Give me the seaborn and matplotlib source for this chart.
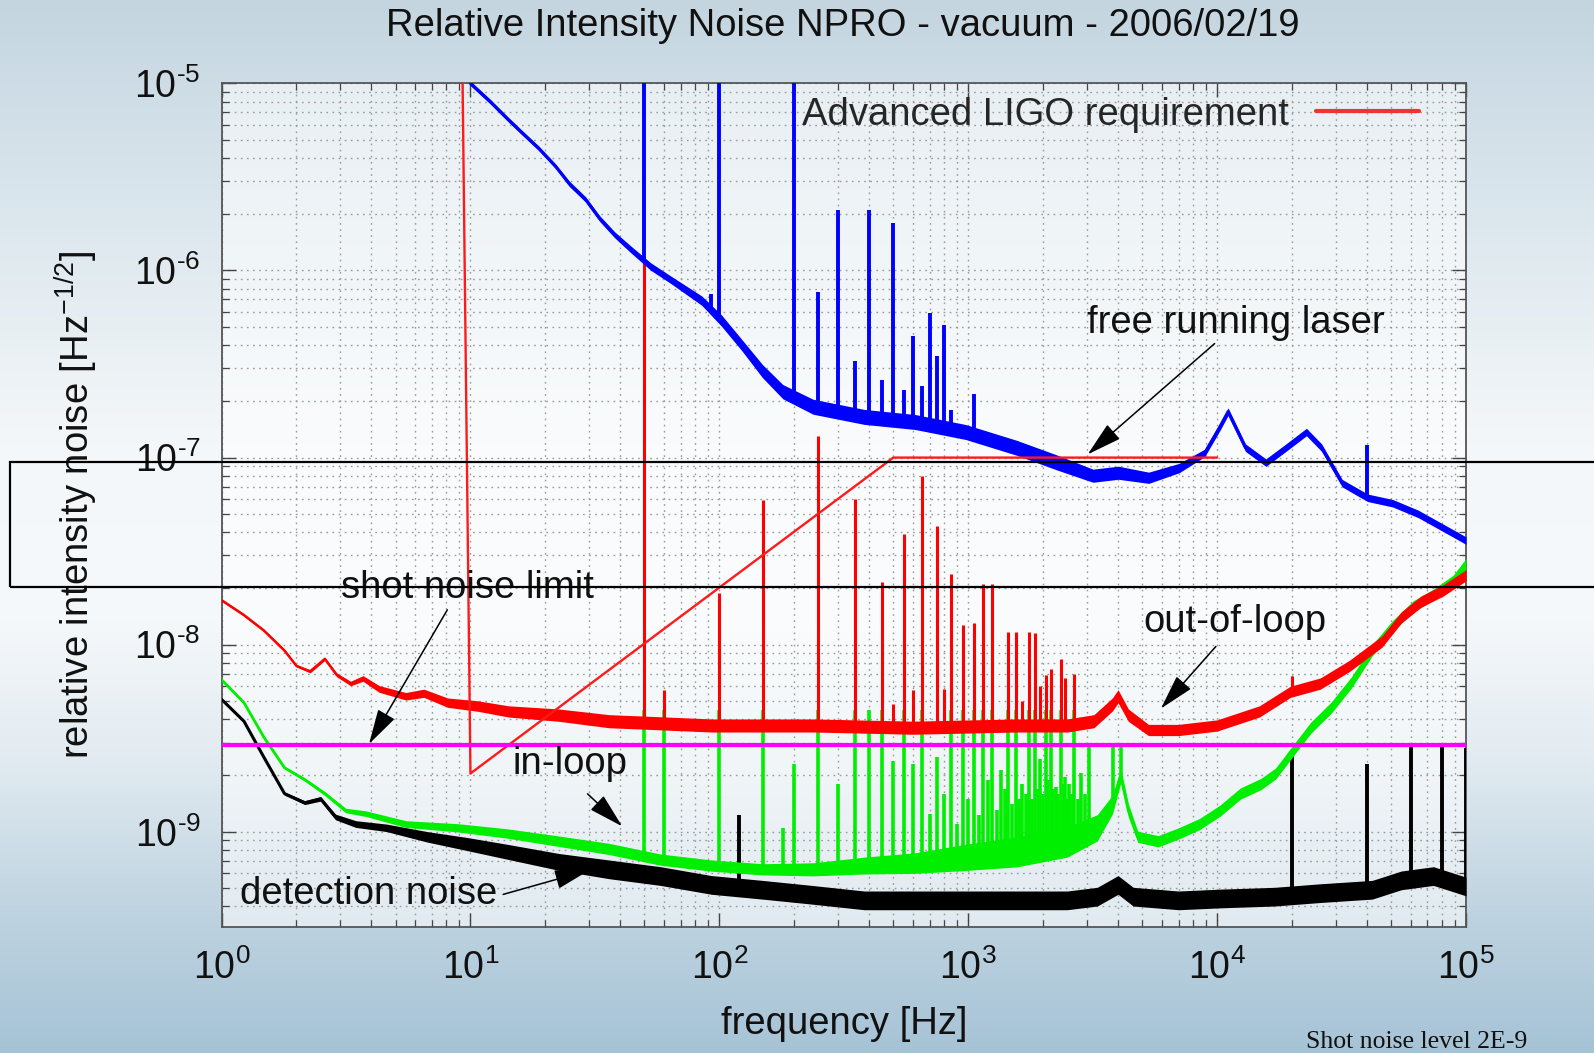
import numpy as np
import pandas as pd
import matplotlib
matplotlib.use("Agg")
import matplotlib.pyplot as plt
import seaborn as sns
from matplotlib.patches import Rectangle
from matplotlib.ticker import NullFormatter

# ---------------- data ----------------
title = "Relative Intensity Noise NPRO - vacuum - 2006/02/19"
x_label = "frequency [Hz]"
y_label = "relative intensity noise [Hz$^{-1/2}$]"
x_ticks = [1, 10, 100, 1000, 1e4, 1e5]
x_tick_labels = [r"$\mathdefault{10^{0}}$", r"$\mathdefault{10^{1}}$", r"$\mathdefault{10^{2}}$",
                 r"$\mathdefault{10^{3}}$", r"$\mathdefault{10^{4}}$", r"$\mathdefault{10^{5}}$"]
y_ticks = [1e-9, 1e-8, 1e-7, 1e-6, 1e-5]
y_tick_labels = [r"$\mathdefault{10^{\text{-}9}}$", r"$\mathdefault{10^{\text{-}8}}$",
                 r"$\mathdefault{10^{\text{-}7}}$", r"$\mathdefault{10^{\text{-}6}}$",
                 r"$\mathdefault{10^{\text{-}5}}$"]

# free running laser (blue)
blue_freq = [10, 12, 14.2, 16, 18.8, 22, 25, 29, 33, 38, 44, 53, 64, 85, 102, 123, 149, 180,
             238, 382, 611, 977, 1560, 2280, 3170, 4010, 5310, 7050, 8920, 10260, 11070, 13000,
             15700, 18900, 22850, 26300, 31800, 40200, 50800, 64300, 81300, 100000]
blue_val = [1.0e-5, 8.0e-6, 6.4e-6, 5.5e-6, 4.5e-6, 3.6e-6, 2.9e-6, 2.4e-6, 1.9e-6, 1.55e-6,
            1.3e-6, 1.05e-6, 8.9e-7, 6.9e-7, 5.4e-7, 4.0e-7, 2.9e-7, 2.25e-7, 1.87e-7, 1.65e-7,
            1.55e-7, 1.37e-7, 1.13e-7, 9.4e-8, 8.0e-8, 8.3e-8, 7.8e-8, 8.8e-8, 1.06e-7, 1.46e-7,
            1.76e-7, 1.13e-7, 9.4e-8, 1.13e-7, 1.37e-7, 1.13e-7, 7.3e-8, 6.1e-8, 5.7e-8, 5.0e-8,
            4.2e-8, 3.6e-8]
blue_spread = [0.012, 0.012, 0.012, 0.012, 0.012, 0.012, 0.014, 0.014, 0.015, 0.016, 0.018,
               0.02, 0.02, 0.025, 0.03, 0.03, 0.035, 0.038, 0.04, 0.04, 0.04, 0.04, 0.04, 0.04,
               0.035, 0.035, 0.03, 0.025, 0.02, 0.02, 0.02, 0.02, 0.02, 0.02, 0.02, 0.02, 0.02,
               0.02, 0.02, 0.02, 0.02, 0.02]
blue_spike_freq = [50, 93, 100, 200, 250, 300, 350, 400, 450, 500, 550, 600, 650, 700, 750,
                   800, 850, 1050, 40000]
blue_spike_val = [2e-5, 7.5e-7, 2e-5, 2e-5, 7.7e-7, 2.1e-6, 3.3e-7, 2.1e-6, 2.6e-7, 1.8e-6,
                  2.3e-7, 4.45e-7, 2.4e-7, 5.9e-7, 3.5e-7, 5.1e-7, 1.8e-7, 2.2e-7, 1.17e-7]

# out-of-loop (red)
red_freq = [1.0, 1.23, 1.48, 1.79, 2.0, 2.27, 2.6, 2.9, 3.3, 3.7, 4.3, 5.5, 6.5, 8.1, 10.7,
            14.2, 22.7, 36, 58, 93, 238, 600, 1560, 2500, 3200, 3800, 4000, 4400, 5300, 7000,
            10000, 14800, 19700, 26000, 34000, 46000, 55000, 66000, 81000, 100000]
red_val = [1.73e-8, 1.44e-8, 1.19e-8, 9.3e-9, 7.7e-9, 7.2e-9, 8.4e-9, 6.9e-9, 6.2e-9, 6.6e-9,
           5.8e-9, 5.3e-9, 5.5e-9, 4.9e-9, 4.7e-9, 4.4e-9, 4.2e-9, 3.9e-9, 3.8e-9, 3.7e-9,
           3.7e-9, 3.6e-9, 3.7e-9, 3.7e-9, 3.9e-9, 4.8e-9, 5.3e-9, 4.2e-9, 3.5e-9, 3.5e-9,
           3.7e-9, 4.4e-9, 5.6e-9, 6.2e-9, 7.7e-9, 1.04e-8, 1.4e-8, 1.7e-8, 1.95e-8, 2.35e-8]
red_spread = [0.006, 0.006, 0.006, 0.006, 0.006, 0.008, 0.008, 0.01, 0.012, 0.015, 0.018, 0.02,
              0.022, 0.025, 0.028, 0.03, 0.033, 0.035, 0.035, 0.035, 0.035, 0.035, 0.035, 0.035,
              0.035, 0.035, 0.035, 0.033, 0.03, 0.03, 0.03, 0.03, 0.03, 0.03, 0.03, 0.03, 0.03,
              0.03, 0.03, 0.03]
red_spike_freq = [50, 60, 100, 150, 250, 350, 450, 500, 550, 600, 650, 750, 800, 850, 950, 1050,
                  1150, 1250, 1450, 1550, 1650, 1750, 1850, 1950, 2050, 2150, 2350, 2450, 2650,
                  20000]
red_spike_val = [1.2e-6, 5.7e-9, 1.9e-8, 5.9e-8, 1.3e-7, 6.0e-8, 2.15e-8, 4.8e-9, 3.9e-8,
                 5.7e-9, 8.0e-8, 4.3e-8, 5.8e-9, 2.4e-8, 1.27e-8, 1.3e-8, 2.1e-8, 2.1e-8,
                 1.17e-8, 1.17e-8, 5.0e-9, 1.17e-8, 1.15e-8, 6.0e-9, 6.9e-9, 7.4e-9, 8.4e-9,
                 6.6e-9, 7.0e-9, 6.8e-9]

# in-loop (green)
green_freq = [1.0, 1.23, 1.48, 1.79, 2.16, 2.6, 3.15, 3.8, 5.5, 8.9, 14, 22.7, 36, 58, 93, 149,
              238, 382, 611, 977, 1560, 2500, 3300, 3800, 4100, 4400, 4800, 5800, 7000, 8500,
              10300, 12400, 15000, 17200, 19700, 23800, 28700, 34700, 41900, 50800, 61300,
              74000, 89000, 100000]
green_val = [6.5e-9, 4.9e-9, 3.2e-9, 2.2e-9, 1.9e-9, 1.6e-9, 1.3e-9, 1.25e-9, 1.1e-9, 1.05e-9,
             9.8e-10, 8.9e-10, 8.1e-10, 7.1e-10, 6.6e-10, 6.3e-10, 6.3e-10, 6.6e-10, 6.8e-10,
             7.3e-10, 7.8e-10, 8.8e-10, 1.05e-9, 1.4e-9, 2.0e-9, 1.3e-9, 9.4e-10, 8.9e-10,
             9.8e-10, 1.1e-9, 1.3e-9, 1.6e-9, 1.8e-9, 2.05e-9, 2.6e-9, 3.6e-9, 4.6e-9, 6.3e-9,
             9.3e-9, 1.26e-8, 1.6e-8, 1.85e-8, 2.2e-8, 2.7e-8]
green_spread = [0.006, 0.006, 0.006, 0.006, 0.008, 0.01, 0.012, 0.015, 0.018, 0.022, 0.025,
                0.028, 0.03, 0.03, 0.03, 0.03, 0.035, 0.045, 0.055, 0.07, 0.08, 0.08, 0.07,
                0.05, 0.04, 0.035, 0.03, 0.03, 0.03, 0.03, 0.03, 0.03, 0.03, 0.03, 0.03, 0.03,
                0.03, 0.03, 0.03, 0.03, 0.03, 0.03, 0.03, 0.03]
green_spike_freq = [50, 60, 100, 150, 180, 200, 250, 300, 350, 400, 450, 500, 550, 600, 650,
                    700, 750, 800, 850, 900, 950, 1000, 1050, 1100, 1150, 1200, 1250, 1300,
                    1350, 1400, 1450, 1500, 1550, 1600, 1650, 1700, 1750, 1800, 1850, 1900,
                    1950, 2000, 2050, 2100, 2150, 2200, 2250, 2300, 2350, 2400, 2450, 2500,
                    2550, 2600, 2650, 2750, 2850, 2950, 3050, 3800, 4100]
green_spike_val = [4.5e-9, 4.5e-9, 4.5e-9, 4.5e-9, 1.05e-9, 2.3e-9, 4.5e-9, 1.8e-9, 4.5e-9,
                   4.5e-9, 4.5e-9, 2.4e-9, 4.5e-9, 2.3e-9, 4.5e-9, 1.25e-9, 2.5e-9, 1.6e-9,
                   4.5e-9, 1.1e-9, 4.5e-9, 1.5e-9, 4.5e-9, 1.23e-9, 4.5e-9, 1.9e-9, 4.5e-9,
                   1.3e-9, 2.13e-9, 1.7e-9, 4.5e-9, 1.4e-9, 4.5e-9, 1.5e-9, 1.8e-9, 1.6e-9,
                   4.5e-9, 1.5e-9, 4.5e-9, 1.7e-9, 2.45e-9, 1.6e-9, 4.5e-9, 1.9e-9, 4.5e-9,
                   1.7e-9, 1.74e-9, 1.6e-9, 4.5e-9, 1.8e-9, 1.96e-9, 1.5e-9, 1.8e-9, 1.6e-9,
                   4.5e-9, 1.5e-9, 2.05e-9, 1.6e-9, 2.84e-9, 2.84e-9, 2.84e-9]

# detection noise (black)
black_freq = [1.0, 1.23, 1.48, 1.79, 2.16, 2.5, 2.87, 3.46, 4.6, 6.7, 9.7, 14.2, 22.7, 36, 58,
              93, 149, 238, 382, 1000, 2500, 3300, 4000, 4600, 7000, 10300, 17000, 26000,
              42000, 55000, 74000, 100000]
black_val = [5.1e-9, 3.9e-9, 2.5e-9, 1.6e-9, 1.43e-9, 1.5e-9, 1.2e-9, 1.1e-9, 1.05e-9,
             9.4e-10, 8.6e-10, 7.8e-10, 6.9e-10, 6.3e-10, 5.8e-10, 5.2e-10, 4.9e-10, 4.6e-10,
             4.3e-10, 4.3e-10, 4.3e-10, 4.5e-10, 5.2e-10, 4.5e-10, 4.3e-10, 4.4e-10, 4.5e-10,
             4.7e-10, 4.9e-10, 5.5e-10, 5.8e-10, 5.1e-10]
black_spread = [0.008, 0.008, 0.008, 0.008, 0.01, 0.012, 0.015, 0.018, 0.02, 0.028, 0.035,
                0.04, 0.045, 0.05, 0.05, 0.05, 0.05, 0.05, 0.05, 0.05, 0.05, 0.05, 0.05, 0.05,
                0.05, 0.05, 0.05, 0.05, 0.05, 0.05, 0.05, 0.05]
black_spike_freq = [120, 20000, 40000, 60000, 80000, 100000]
black_spike_val = [1.23e-9, 2.7e-9, 2.3e-9, 2.9e-9, 3.0e-9, 2.8e-9]

# Advanced LIGO requirement
req_freq = [9.3, 10, 500, 10000]
req_val = [1.0e-5, 2.05e-9, 1.0e-7, 1.0e-7]
req_label = "Advanced LIGO requirement"

# shot noise limit
shot_level = 2.9e-9

# ---------------- styling ----------------
sns.set_style("ticks")
plt.rcParams["font.family"] = ["Liberation Sans", "DejaVu Sans"]
plt.rcParams["mathtext.fontset"] = "custom"
plt.rcParams["mathtext.rm"] = "Liberation Sans"
plt.rcParams["mathtext.it"] = "Liberation Sans:italic"
plt.rcParams["mathtext.bf"] = "Liberation Sans:bold"

fig = plt.figure(figsize=(15.94, 10.53), dpi=100)

# background gradient
bg = fig.add_axes([0, 0, 1, 1], zorder=-10)
stops = [0.0, 0.18, 0.42, 0.58, 0.72, 0.86, 1.0]
cols = np.array([[196, 213, 224], [217, 229, 236], [244, 247, 249], [246, 249, 251],
                 [226, 235, 241], [192, 212, 225], [166, 195, 214]]) / 255.0
t = np.linspace(0, 1, 600)
img = np.stack([np.interp(t, stops, cols[:, k]) for k in range(3)], axis=-1)[:, None, :]
bg.imshow(img, aspect="auto", extent=[0, 1, 0, 1], origin="upper")
bg.set_axis_off()

ax = fig.add_axes([0.139, 0.1197, 0.7807, 0.8011])
ax.set_facecolor((1, 1, 1, 0.55))
ax.set_xscale("log")
ax.set_yscale("log")
ax.set_xlim(1, 1e5)
ax.set_ylim(3.1e-10, 1e-5)
ax.set_axisbelow(True)


def trace(freq, val, spread, color, z, lw):
    f = np.asarray(freq, float)
    v = np.asarray(val, float)
    s = np.asarray(spread, float)
    ax.fill_between(f, v * 10 ** (-s), v * 10 ** s, color=color, lw=0, zorder=z)
    sns.lineplot(x=f, y=v, color=color, linewidth=lw, ax=ax, zorder=z,
                 estimator=None, sort=False, legend=False)


def spikes(sf, sv, base_f, base_v, color, z, lw):
    sf = np.asarray(sf, float)
    base = 10 ** np.interp(np.log10(sf), np.log10(base_f), np.log10(base_v))
    ax.vlines(sf, base, sv, colors=color, lw=lw, zorder=z)


BLACK, GREEN, RED, BLUE = "#000000", "#00ee00", "#ff0000", "#0000ff"

trace(black_freq, black_val, black_spread, BLACK, 3, 2.2)
spikes(black_spike_freq, black_spike_val, black_freq, black_val, BLACK, 3, 2.8)
trace(green_freq, green_val, green_spread, GREEN, 4, 2.0)
spikes(green_spike_freq, green_spike_val, green_freq, green_val, GREEN, 4, 2.6)
trace(red_freq, red_val, red_spread, RED, 5, 1.8)
spikes(red_spike_freq, red_spike_val, red_freq, red_val, RED, 5, 2.2)
trace(blue_freq, blue_val, blue_spread, BLUE, 5, 2.2)
spikes(blue_spike_freq, blue_spike_val, blue_freq, blue_val, BLUE, 5, 2.8)

sns.lineplot(x=req_freq, y=req_val, color="#ff1a1a", linewidth=1.7, ax=ax, zorder=7,
             estimator=None, sort=False, label=req_label)
ax.axhline(shot_level, color="#ff00ff", lw=3, zorder=8)

# axes, ticks, grid
ax.set_xticks(x_ticks, labels=x_tick_labels, fontsize=27)
ax.set_yticks(y_ticks, labels=y_tick_labels, fontsize=27)
ax.xaxis.set_minor_formatter(NullFormatter())
ax.yaxis.set_minor_formatter(NullFormatter())
ax.tick_params(which="both", direction="in", top=True, right=True, colors="#444444",
               labelcolor="#111111")
ax.tick_params(which="major", length=10, width=1.0)
ax.tick_params(which="minor", length=5, width=0.9)
ax.tick_params(axis="x", pad=16)
ax.tick_params(axis="y", pad=15)
ax.grid(True, which="both", linestyle=(0, (1.2, 3.2)), color="#9a9a9a", lw=1.0)
for sp in ax.spines.values():
    sp.set_color("#555555")
    sp.set_linewidth(1.3)

ax.set_xlabel(x_label, fontsize=27.5, color="#111111", va="center")
ax.set_ylabel(y_label, fontsize=27.5, color="#111111", va="center")
ax.xaxis.set_label_coords(0.5, -0.115)
ax.yaxis.set_label_coords(-0.117, 0.5)

fig.text(0.529, 1 - 26 / 1053, title, ha="center", va="center", fontsize=27.5,
         color="#111111")

leg = ax.legend(loc="center right", bbox_to_anchor=(0.962, 0.963), markerfirst=False,
                frameon=False, fontsize=27.5, handlelength=2.7, handletextpad=0.7,
                borderpad=0, borderaxespad=0)
for h in leg.get_lines():
    h.set_linewidth(3)
    h.set_color("#ee3333")

# annotations
ann = [
    ("free running laser", (0.8154, 0.7157), (0.798, 0.6916), (0.696, 0.5602)),
    ("shot noise limit", (0.1977, 0.4024), (0.1814, 0.3759), (0.1185, 0.2169)),
    ("out-of-loop", (0.8145, 0.3614), (0.799, 0.3325), (0.7549, 0.259)),
    ("in-loop", (0.2802, 0.1928), (0.2941, 0.1578), (0.3219, 0.1193)),
    ("detection noise", (0.1185, 0.0386), (0.2263, 0.0386), (0.2958, 0.0675)),
]
for txt, pos, tail, head in ann:
    ax.text(pos[0], pos[1], txt, transform=ax.transAxes, ha="center", va="center",
            fontsize=27.5, color="#111111", zorder=12)
    ax.annotate("", xy=head, xytext=tail, xycoords="axes fraction",
                textcoords="axes fraction", zorder=12,
                arrowprops=dict(arrowstyle="-|>,head_length=1.1,head_width=0.3",
                                color="black", lw=1.1, shrinkA=0, shrinkB=0,
                                mutation_scale=20))

# overlay box and footnote
fig.add_artist(Rectangle((0.0064, 0.4429), 1.02, 0.1188, transform=fig.transFigure,
                         fill=False, ec="black", lw=1.6, zorder=20))
fig.text(0.8193, 0.0104, "Shot noise level 2E-9", ha="left", va="center",
         fontsize=18.5, family="Liberation Serif", color="#111111")

fig.savefig("out.png", dpi=100)
